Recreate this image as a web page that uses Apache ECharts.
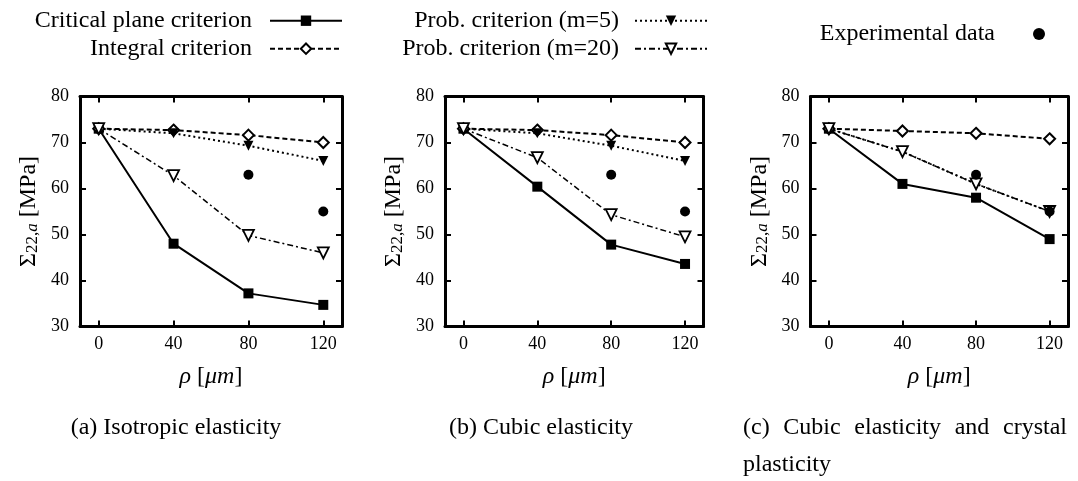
<!DOCTYPE html>
<html><head><meta charset="utf-8">
<script src="https://cdn.jsdelivr.net/npm/echarts@6/dist/echarts.min.js"></script>
<style>html,body{margin:0;padding:0;background:#fff}#c{width:1078px;height:481px}</style>
</head><body><div id="c"></div>
<script>
// ---- data ----
const rho = [0, 40, 80, 120];
const xTicks = [0, 40, 80, 120];
const expRho = [80, 120];
const names = ['Critical plane criterion', 'Integral criterion', 'Prob. criterion (m=5)', 'Prob. criterion (m=20)', 'Experimental data'];

// (a) Isotropic elasticity
const critA = [73, 48, 37.2, 34.7];
const integA = [73, 72.7, 71.6, 70];
const m5A = [73, 72, 69.3, 66];
const m20A = [73, 62.8, 49.8, 46];
const expA = [63, 55];
// (b) Cubic elasticity
const critB = [73, 60.4, 47.8, 43.6];
const integB = [73, 72.7, 71.6, 70];
const m5B = [73, 72, 69.3, 66];
const m20B = [73, 66.7, 54.3, 49.5];
const expB = [63, 55];
// (c) Cubic elasticity and crystal plasticity
const critC = [73, 61, 58, 49];
const integC = [73, 72.5, 72, 70.8];
const m5C = [73, 68, 61, 55];
const m20C = [73, 68, 61, 55];
const expC = [63, 55];

const captionA = '(a) Isotropic elasticity';
const captionB = '(b) Cubic elasticity';
const captionC1 = ['(c)', 'Cubic', 'elasticity', 'and', 'crystal'];
const captionC2 = 'plasticity';

// ---- layout / style ----
const FONT = "'Liberation Serif','Times New Roman',serif";
const grids = [
  {left: 80, top: 96.5, width: 262, height: 230},
  {left: 445, top: 96.5, width: 258.5, height: 230},
  {left: 810.5, top: 96.5, width: 257.5, height: 230}
];
const panels = [
  {crit: critA, integ: integA, m5: m5A, m20: m20A, exp: expA},
  {crit: critB, integ: integB, m5: m5B, m20: m20B, exp: expB},
  {crit: critC, integ: integC, m5: m5C, m20: m20C, exp: expC}
];

const boxLine = {show: true, onZero: false, lineStyle: {color: '#000', width: 3}};
const tickStyle = {color: '#000', width: 2};
const xAxes = [], yAxes = [], series = [];

panels.forEach((p, i) => {
  xAxes.push({
    gridIndex: i, type: 'value', min: -10, max: 130, position: 'bottom',
    axisLine: boxLine,
    axisTick: {show: true, inside: true, length: 6, lineStyle: tickStyle, customValues: xTicks},
    axisLabel: {show: true, customValues: xTicks, margin: 9, color: '#000', fontFamily: FONT, fontSize: 18},
    splitLine: {show: false},
    name: '{i|ρ} {r|[}{i|μm}{r|]}', nameLocation: 'middle', nameGap: 36,
    nameTextStyle: {fontFamily: FONT, fontSize: 24, color: '#000', lineHeight: 28,
      rich: {
        i: {fontFamily: FONT, fontStyle: 'italic', fontSize: 24, lineHeight: 28, color: '#000'},
        r: {fontFamily: FONT, fontSize: 24, lineHeight: 28, color: '#000'}
      }}
  });
  xAxes.push({
    gridIndex: i, type: 'value', min: -10, max: 130, position: 'top',
    axisLine: boxLine,
    axisTick: {show: true, inside: true, length: 6, lineStyle: tickStyle, customValues: xTicks},
    axisLabel: {show: false}, splitLine: {show: false}
  });
  yAxes.push({
    gridIndex: i, type: 'value', min: 30, max: 80, interval: 10, position: 'left',
    axisLine: boxLine,
    axisTick: {show: true, inside: true, length: 6, lineStyle: tickStyle},
    axisLabel: {show: true, margin: 11, color: '#000', fontFamily: FONT, fontSize: 18},
    splitLine: {show: false},
    name: '{a|Σ}{b|22,}{c|a}{a| [MPa]}', nameLocation: 'middle', nameRotate: 90, nameGap: 39,
    nameTextStyle: {fontFamily: FONT, fontSize: 24, color: '#000',
      rich: {
        a: {fontFamily: FONT, fontSize: 24, lineHeight: 28, verticalAlign: 'bottom', color: '#000'},
        b: {fontFamily: FONT, fontSize: 17, lineHeight: 40, verticalAlign: 'bottom', color: '#000'},
        c: {fontFamily: FONT, fontSize: 17, fontStyle: 'italic', lineHeight: 40, verticalAlign: 'bottom', color: '#000'}
      }}
  });
  yAxes.push({
    gridIndex: i, type: 'value', min: 30, max: 80, interval: 10, position: 'right',
    axisLine: boxLine,
    axisTick: {show: true, inside: true, length: 6, lineStyle: tickStyle},
    axisLabel: {show: false}, splitLine: {show: false}
  });

  const base = {xAxisIndex: 2 * i, yAxisIndex: 2 * i, silent: true, animation: false, emphasis: {disabled: true}, z: 3};
  const pts = arr => rho.map((x, k) => [x, arr[k]]);
  series.push(Object.assign({}, base, {
    name: names[0], type: 'line', data: pts(p.crit), symbol: 'rect', symbolSize: 10,
    itemStyle: {color: '#000', opacity: 1}, lineStyle: {color: '#000', width: 2, type: 'solid'}
  }));
  series.push(Object.assign({}, base, {
    name: names[1], type: 'line', data: pts(p.integ), symbol: 'diamond', symbolSize: 11,
    itemStyle: {color: '#fff', borderColor: '#000', borderWidth: 2, opacity: 1}, lineStyle: {color: '#000', width: 2, type: [5, 3]}
  }));
  series.push(Object.assign({}, base, {
    name: names[2], type: 'line', data: pts(p.m5), symbol: 'triangle', symbolRotate: 180, symbolSize: 10,
    itemStyle: {color: '#000', opacity: 1}, lineStyle: {color: '#000', width: 2, type: [2, 3]}
  }));
  series.push(Object.assign({}, base, {
    name: names[3], type: 'line', data: pts(p.m20), symbol: 'triangle', symbolRotate: 180, symbolSize: 11,
    itemStyle: {color: '#fff', borderColor: '#000', borderWidth: 1.8, opacity: 1}, lineStyle: {color: '#000', width: 1.5, type: [6, 3, 2, 3]}
  }));
  series.push(Object.assign({}, base, {
    name: names[4], type: 'scatter', data: expRho.map((x, k) => [x, p.exp[k]]), symbol: 'circle', symbolSize: 10,
    itemStyle: {color: '#000', opacity: 1}, z: 4
  }));
});

// ---- captions (justified line for (c)) ----
const CAP_FONT = "24px 'Liberation Serif'";
const ctx = document.createElement('canvas').getContext('2d');
ctx.font = CAP_FONT;
const cLeft = 743, cRight = 1067;
const wordW = captionC1.map(w => ctx.measureText(w).width);
const gap = (cRight - cLeft - wordW.reduce((a, b) => a + b, 0)) / (captionC1.length - 1);
const graphics = [];
function txt(text, x, y, align) {
  return {type: 'text', x: x, y: y, silent: true,
    style: {text: text, font: CAP_FONT, fill: '#000', align: align, verticalAlign: 'middle', textAlign: align, textVerticalAlign: 'middle'}};
}
graphics.push(txt(captionA, 176, 428, 'center'));
graphics.push(txt(captionB, 541, 428, 'center'));
let cx = cLeft;
captionC1.forEach((w, k) => { graphics.push(txt(w, cx, 428, 'left')); cx += wordW[k] + gap; });
graphics.push(txt(captionC2, cLeft, 465, 'left'));

const legendBase = {
  orient: 'vertical', align: 'right', itemWidth: 72, itemHeight: 13, itemGap: 4, padding: 0,
  selectedMode: false, inactiveColor: '#000'
};
const chart = echarts.init(document.getElementById('c'), null, {renderer: 'canvas'});
chart.setOption({
  animation: false,
  backgroundColor: '#fff',
  grid: grids,
  xAxis: xAxes,
  yAxis: yAxes,
  series: series,
  legend: [
    Object.assign({}, legendBase, {data: [names[0], names[1]], right: 735, top: 8.7,
      textStyle: {fontFamily: FONT, fontSize: 24, lineHeight: 24, color: '#000', padding: [0, 13, 0, 0]}}),
    Object.assign({}, legendBase, {data: [names[2], names[3]], right: 370, top: 8.7,
      textStyle: {fontFamily: FONT, fontSize: 24, lineHeight: 24, color: '#000', padding: [0, 11, 0, 0]}}),
    Object.assign({}, legendBase, {data: [names[4]], right: 33, top: 22, itemWidth: 12, itemHeight: 12,
      textStyle: {fontFamily: FONT, fontSize: 24, lineHeight: 24, color: '#000', padding: [0, 33, 0, 0]}})
  ],
  graphic: graphics
});
</script>
</body></html>
